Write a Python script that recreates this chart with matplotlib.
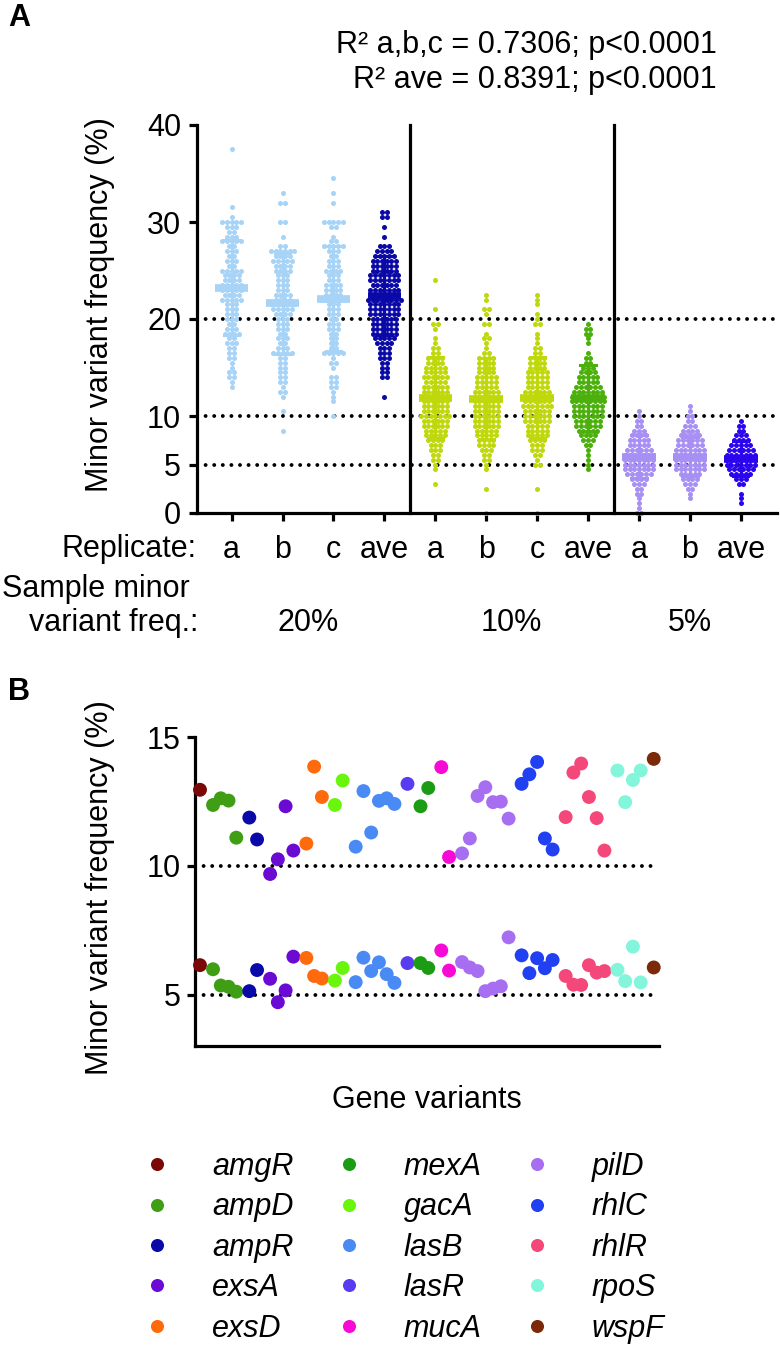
import numpy as np
import matplotlib.pyplot as plt
from matplotlib.lines import Line2D
from matplotlib.transforms import blended_transform_factory

plt.rcParams['font.family'] = ['Liberation Sans', 'DejaVu Sans']

W, H = 780, 1346

# ---- panel A: dots per 0.5 % row (Prism dot plot), from the lowest row up ----
group_labels = ['a', 'b', 'c', 'ave', 'a', 'b', 'c', 'ave', 'a', 'b', 'ave']
group_colors = ['#a6d3f6', '#a6d3f6', '#a6d3f6', '#0a08a6',
                '#bfd80c', '#bfd80c', '#bfd80c', '#4cb00c',
                '#a78ff4', '#a78ff4', '#2a05ee']
row_start = [13.0, 8.5, 10.0, 12.0, 3.0, 0.0, 0.0, 4.5, 0.0, 1.5, 1.0]

counts_20a = [1, 1, 2, 2, 1, 1, 2, 2, 2, 3, 2, 4, 3, 2, 3, 3, 3, 3, 5, 4, 5, 5, 4, 4, 5, 2,
              3, 2, 3, 2, 5, 3, 2, 3, 5, 1, 0, 1, 0, 0, 0, 0, 0, 0, 0, 0, 0, 0, 0, 1]
counts_20b = [1, 0, 0, 0, 1, 0, 0, 1, 2, 1, 2, 2, 2, 2, 2, 2, 5, 3, 2, 3, 2, 3, 3, 3, 4, 5,
              6, 4, 4, 3, 3, 3, 3, 4, 4, 5, 4, 6, 2, 0, 1, 0, 0, 2, 0, 0, 0, 2, 0, 1]
counts_20c = [1, 0, 0, 1, 1, 1, 2, 2, 2, 0, 1, 2, 1, 5, 2, 2, 2, 2, 3, 3, 2, 3, 3, 3, 6, 4,
              4, 4, 3, 3, 4, 3, 3, 2, 3, 5, 2, 1, 0, 2, 5, 0, 0, 0, 1, 0, 1, 0, 0, 1]
counts_20ave = [1, 0, 0, 0, 2, 2, 2, 2, 3, 3, 3, 4, 5, 6, 6, 6, 6, 7, 7, 7, 8, 7, 7, 6, 7, 7,
                6, 6, 6, 5, 4, 3, 0, 1, 0, 1, 0, 2, 2]
counts_10a = [1, 0, 0, 1, 1, 2, 2, 3, 3, 4, 5, 5, 6, 6, 7, 6, 6, 6, 6, 6, 6, 5, 6, 5, 5, 4,
              4, 2, 2, 1, 1, 0, 1, 2, 0, 0, 1, 0, 0, 0, 0, 0, 1]
counts_10b = [1, 0, 0, 0, 0, 1, 0, 0, 0, 1, 1, 2, 2, 3, 4, 4, 5, 5, 6, 6, 6, 6, 6, 6, 6, 6,
              5, 5, 5, 4, 4, 4, 4, 2, 1, 1, 2, 1, 0, 2, 0, 1, 2, 0, 1, 1]
counts_10c = [1, 0, 0, 0, 0, 1, 0, 0, 0, 0, 2, 1, 2, 3, 3, 4, 5, 5, 5, 6, 6, 6, 7, 6, 6, 6,
              5, 5, 5, 5, 4, 4, 4, 2, 2, 1, 1, 1, 0, 2, 1, 1, 0, 1, 1, 1]
counts_10ave = [1, 1, 1, 1, 1, 2, 3, 4, 5, 6, 6, 7, 7, 7, 8, 8, 7, 6, 5, 5, 4, 3, 2, 2, 1, 0,
                1, 1, 2, 2, 1]
counts_5a = [2, 1, 1, 1, 2, 2, 3, 4, 6, 7, 7, 7, 7, 6, 5, 5, 4, 3, 2, 2, 1, 1]
counts_5b = [1, 1, 2, 3, 4, 5, 7, 7, 7, 7, 7, 6, 6, 5, 4, 3, 2, 2, 1, 1]
counts_5ave = [1, 1, 1, 0, 2, 3, 5, 6, 7, 7, 7, 6, 5, 4, 3, 2, 2, 1]
group_counts = [counts_20a, counts_20b, counts_20c, counts_20ave,
                counts_10a, counts_10b, counts_10c, counts_10ave,
                counts_5a, counts_5b, counts_5ave]

group_means = [23.2, 21.6, 22.1, 22.4, 11.9, 11.8, 11.9, 11.9, 5.8, 5.8, 5.6]
group_sds = [4.9, 5.2, 5.4, 4.1, 4.2, 4.2, 4.2, 3.4, 2.2, 2.0, 1.8]
sample_freqs = ['20%', '10%', '5%']

# ---- panel B: minor variant frequency per gene variant ----
genes = ['amgR', 'ampD', 'ampR', 'exsA', 'exsD', 'gacA', 'lasB', 'lasR',
         'mexA', 'mucA', 'pilD', 'rhlC', 'rhlR', 'rpoS', 'wspF']
n_per_gene = [1, 4, 2, 4, 3, 2, 6, 1, 2, 2, 7, 5, 6, 4, 1]
gene_colors = {'amgR': '#7a0808', 'ampD': '#3f9e14', 'ampR': '#0a0aaa',
               'exsA': '#6a0ad2', 'exsD': '#ff6a0c', 'gacA': '#6af50c',
               'lasB': '#4a8af5', 'lasR': '#5a3cf0', 'mexA': '#1c9c14',
               'mucA': '#f70ad6', 'pilD': '#a76ef2', 'rhlC': '#2040f2',
               'rhlR': '#f5487a', 'rpoS': '#82f5da', 'wspF': '#7a2a08'}
freq_10 = [12.95,
           12.36, 12.62, 12.53, 11.09,
           11.87, 11.02,
           9.68, 10.25, 12.31, 10.59,
           10.86, 13.85, 12.67,
           12.36, 13.31,
           10.74, 12.90, 11.29, 12.52, 12.62, 12.40,
           13.18,
           12.31, 13.02,
           13.83, 10.34,
           10.48, 11.06, 12.71, 13.05, 12.47, 12.49, 11.83,
           13.18, 13.55, 14.03, 11.06, 10.63,
           11.89, 13.62, 13.97, 12.67, 11.85, 10.59,
           13.70, 12.47, 13.33, 13.70,
           14.15]
freq_5 = [6.14,
          5.98, 5.35, 5.30, 5.11,
          5.13, 5.95,
          5.61, 4.70, 5.16, 6.47,
          6.42, 5.72, 5.62,
          5.54, 6.03,
          5.48, 6.43, 5.91, 6.25, 5.79, 5.45,
          6.22,
          6.22, 6.03,
          6.71, 5.93,
          6.26, 6.05, 5.91, 5.13, 5.23, 5.32, 7.22,
          6.52, 5.83, 6.41, 6.02, 6.34,
          5.72, 5.38, 5.37, 6.14, 5.85, 5.91,
          5.96, 5.52, 6.86, 5.47,
          6.05]
legend_order = ['amgR', 'ampD', 'ampR', 'exsA', 'exsD',
                'mexA', 'gacA', 'lasB', 'lasR', 'mucA',
                'pilD', 'rhlC', 'rhlR', 'rpoS', 'wspF']

FS = 22
LW = 2.3


def fx(x):
    return x / W


def fy(y):
    return 1 - y / H


def style_axes(ax):
    for s in ['top', 'right']:
        ax.spines[s].set_visible(False)
    for s in ['left', 'bottom']:
        ax.spines[s].set_linewidth(LW)
    ax.tick_params(width=LW, length=5.5, labelsize=FS)


fig = plt.figure(figsize=(W / 100, H / 100), dpi=100)

# ---------------- panel A ----------------
axA = fig.add_axes([fx(197), fy(513), fx(777 - 197), (513 - 125) / H])
style_axes(axA)
axA.set_xlim(-0.68, 10.71)
axA.set_ylim(0, 40)
axA.set_yticks([0, 5, 10, 20, 30, 40])
axA.set_xticks(np.arange(len(group_labels)))
axA.set_xticklabels(group_labels)
axA.tick_params(axis='x', pad=10)
axA.tick_params(axis='y', pad=6)

for yv in [5, 10, 20]:
    axA.axhline(yv, color='black', lw=2.8, ls=(0, (0.01, 2.2)),
                dash_capstyle='round', zorder=1)
for xv in [3.5, 7.5]:
    axA.plot([xv, xv], [0, 40], color='black', lw=LW, zorder=4, clip_on=False)

dx = 0.092
for i, (counts, start, col) in enumerate(zip(group_counts, row_start, group_colors)):
    counts = np.asarray(counts)
    rows = start + 0.5 * np.arange(len(counts))
    vals = np.repeat(rows, counts)
    offs = np.concatenate([(np.arange(n) - (n - 1) / 2) * dx for n in counts if n > 0])
    axA.scatter(i + offs, vals, s=13, color=col, lw=0, zorder=2, clip_on=False)
    m, sd = group_means[i], group_sds[i]
    axA.plot([i - 0.33, i + 0.33], [m, m], color=col, lw=5.5, solid_capstyle='butt', zorder=3)
    axA.plot([i, i], [m - sd, m + sd], color=col, lw=2.2, zorder=3)
    for yv in [m - sd, m + sd]:
        axA.plot([i - 0.15, i + 0.15], [yv, yv], color=col, lw=2.2, zorder=3)

tr = blended_transform_factory(axA.transData, fig.transFigure)
for xc, lab in zip([1.5, 5.5, 9], sample_freqs):
    axA.text(xc, fy(631), lab, transform=tr, ha='center', va='baseline', fontsize=FS)

fig.text(fx(197), fy(557), 'Replicate:', ha='right', va='baseline', fontsize=FS)
fig.text(fx(190), fy(597), 'Sample minor', ha='right', va='baseline', fontsize=FS)
fig.text(fx(198), fy(631), 'variant freq.:', ha='right', va='baseline', fontsize=FS)
fig.text(fx(100), fy(305), 'Minor variant frequency (%)', rotation=90,
         ha='center', va='center', fontsize=FS)
fig.text(fx(717), fy(45), 'R² a,b,c = 0.7306; p<0.0001', ha='right', va='center', fontsize=FS)
fig.text(fx(717), fy(80), 'R² ave = 0.8391; p<0.0001', ha='right', va='center', fontsize=FS)
fig.text(fx(8), fy(18), 'A', ha='left', va='center', fontsize=FS, fontweight='bold')

# ---------------- panel B ----------------
axB = fig.add_axes([fx(195), fy(1046), fx(659 - 195), (1046 - 737) / H])
style_axes(axB)
axB.set_xlim(-0.645, 59.2)
axB.set_ylim(3, 15)
axB.set_yticks([5, 10, 15])
axB.set_xticks([])
axB.tick_params(axis='y', pad=5)
for yv in [5, 10]:
    axB.axhline(yv, color='black', lw=2.8, ls=(0, (0.01, 2.2)),
                dash_capstyle='round', zorder=1)

gene_idx = np.repeat(np.arange(len(genes)), n_per_gene)
xpos = np.arange(len(gene_idx)) + 0.68 * gene_idx
pt_colors = [gene_colors[genes[g]] for g in gene_idx]
axB.scatter(xpos, freq_10, s=100, c=pt_colors, lw=0, zorder=3, clip_on=False)
axB.scatter(xpos, freq_5, s=100, c=pt_colors, lw=0, zorder=3, clip_on=False)

fig.text(fx(100), fy(888), 'Minor variant frequency (%)', rotation=90,
         ha='center', va='center', fontsize=FS)
fig.text(fx(427), fy(1100), 'Gene variants', ha='center', va='center', fontsize=FS)
fig.text(fx(8), fy(692), 'B', ha='left', va='center', fontsize=FS, fontweight='bold')

handles = [Line2D([], [], ls='none', marker='o', markersize=9.4,
                  color=gene_colors[g], markeredgewidth=0) for g in legend_order]
fig.legend(handles, legend_order, loc='upper left', bbox_to_anchor=(fx(142), fy(1152)),
           ncol=3, frameon=False, prop={'style': 'italic', 'size': FS},
           handlelength=1.0, handletextpad=1.3, columnspacing=1.3,
           labelspacing=0.34, borderpad=0, borderaxespad=0)

fig.savefig('out.png', dpi=100)
